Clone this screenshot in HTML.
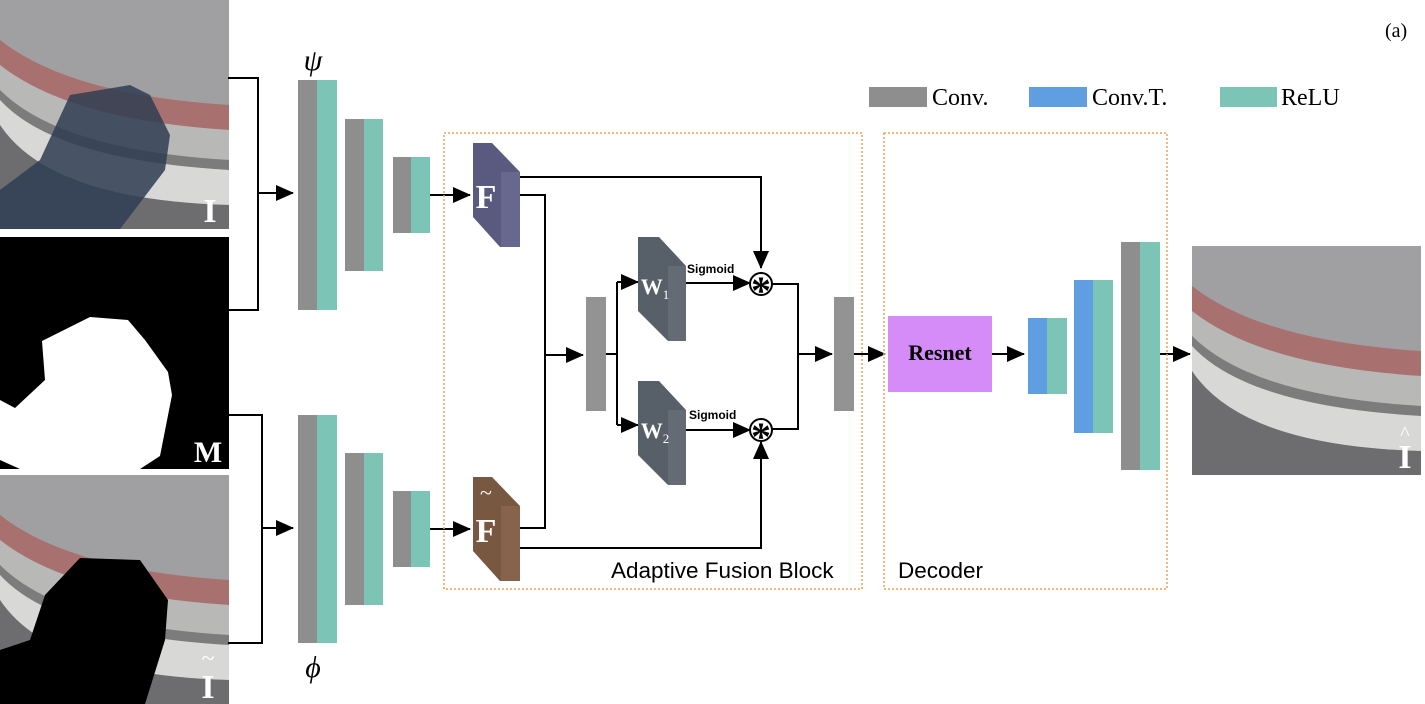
<!DOCTYPE html>
<html><head><meta charset="utf-8"><style>
html,body{margin:0;padding:0;background:#fff;}
svg{display:block}
text{font-family:"Liberation Serif",serif}
</style></head><body>
<svg width="1425" height="704" viewBox="0 0 1425 704" xmlns="http://www.w3.org/2000/svg">
<defs>
<marker id="ab" markerWidth="18" markerHeight="16" refX="17" refY="8" orient="auto" markerUnits="userSpaceOnUse"><path d="M0,0 L18,8 L0,16 z" fill="#000"/></marker>
<g id="scene">
<rect x="0" y="0" width="229" height="229" fill="#a0a0a2"/>
<path d="M0,40 Q70,95 229,105 L229,130 Q70,120 0,65 z" fill="#a8716f"/>
<path d="M0,65 Q70,120 229,130 L229,160 Q60,150 0,90 z" fill="#b8b8b6"/>
<path d="M0,90 Q60,150 229,160 L229,170 Q55,160 0,100z" fill="#7c7c7c"/>
<path d="M0,100 Q55,160 229,170 L229,205 Q50,200 0,125 z" fill="#d8d8d6"/>
<path d="M0,125 Q50,200 229,205 L229,229 L0,229 z" fill="#6d6d70"/>
</g>
</defs>

<g><use href="#scene"/></g>
<path d="M40,160 L70,95 L130,85 L150,95 L170,135 L165,170 L120,229 L0,229 L0,190 Z" fill="#2f3d52" opacity="0.85"/>
<text x="210" y="222" font-size="34" fill="#fff" text-anchor="middle" font-weight="bold">I</text>
<rect x="0" y="237" width="229" height="232" fill="#000"/>
<path d="M42,341 L90,317 L128,320 L145,340 L168,372 L172,395 L160,456 L140,469 L20,469 L0,460 L0,400 L15,408 L45,380 Z" fill="#fff"/>
<text x="208" y="462" font-size="30" fill="#fff" text-anchor="middle" font-weight="bold">M</text>
<g transform="translate(0,475)"><use href="#scene"/></g>
<path d="M45,595 L80,558 L140,560 L168,600 L165,640 L145,704 L0,704 L0,650 L30,640 Z" fill="#000"/>
<text x="208" y="698" font-size="34" fill="#fff" text-anchor="middle" font-weight="bold">I</text>
<text x="208" y="666" font-size="24" fill="#fff" text-anchor="middle">~</text>
<g transform="translate(1192,246)"><use href="#scene"/></g>
<text x="1405" y="468" font-size="34" fill="#fff" text-anchor="middle" font-weight="bold">I</text>
<text x="1405" y="440" font-size="20" fill="#fff" text-anchor="middle">^</text>

<g stroke="#000" stroke-width="2" fill="none">
<polyline points="228,78 258,78 258,310 228,310"/>
<line x1="258" y1="193" x2="293" y2="193" marker-end="url(#ab)"/>
<polyline points="228,415 262,415 262,643 228,643"/>
<line x1="262" y1="528" x2="293" y2="528" marker-end="url(#ab)"/>
<line x1="430" y1="195" x2="470" y2="195" marker-end="url(#ab)"/>
<line x1="430" y1="529" x2="470" y2="529" marker-end="url(#ab)"/>
<polyline points="520,177 761,177 761,268" marker-end="url(#ab)"/>
<polyline points="520,195 545,195 545,528 520,528"/>
<line x1="545" y1="355" x2="583" y2="355" marker-end="url(#ab)"/>
<polyline points="606,354 617,354"/>
<line x1="617" y1="282" x2="617" y2="425"/>
<line x1="617" y1="282" x2="638" y2="282" marker-end="url(#ab)"/>
<line x1="617" y1="425" x2="638" y2="425" marker-end="url(#ab)"/>
<line x1="686" y1="283" x2="750" y2="283" marker-end="url(#ab)"/>
<line x1="686" y1="430" x2="750" y2="430" marker-end="url(#ab)"/>
<polyline points="520,548 761,548 761,442" marker-end="url(#ab)"/>
<polyline points="772,284 798,284 798,429 772,429"/>
<line x1="798" y1="354" x2="832" y2="354" marker-end="url(#ab)"/>
<line x1="854" y1="354" x2="885" y2="354" marker-end="url(#ab)"/>
<line x1="992" y1="354" x2="1024" y2="354" marker-end="url(#ab)"/>
<line x1="1160" y1="354" x2="1190" y2="354" marker-end="url(#ab)"/>
</g>

<rect x="298" y="80" width="19" height="230" fill="#8e8e8e"/><rect x="317" y="80" width="20" height="230" fill="#7cc4b6"/>
<rect x="345" y="119" width="19" height="152" fill="#8e8e8e"/><rect x="364" y="119" width="19" height="152" fill="#7cc4b6"/>
<rect x="393" y="157" width="18" height="76" fill="#8e8e8e"/><rect x="411" y="157" width="19" height="76" fill="#7cc4b6"/>
<rect x="298" y="415" width="19" height="228" fill="#8e8e8e"/><rect x="317" y="415" width="20" height="228" fill="#7cc4b6"/>
<rect x="345" y="453" width="19" height="152" fill="#8e8e8e"/><rect x="364" y="453" width="19" height="152" fill="#7cc4b6"/>
<rect x="393" y="491" width="18" height="76" fill="#8e8e8e"/><rect x="411" y="491" width="19" height="76" fill="#7cc4b6"/>
<text x="313" y="70" font-size="30" font-style="italic" text-anchor="middle">ψ</text>
<text x="313" y="677" font-size="30" font-style="italic" text-anchor="middle">ϕ</text>

<rect x="444" y="133" width="418" height="456" fill="none" stroke="#f0a050" stroke-width="1.5" stroke-dasharray="2,2"/>
<polygon points="473,143 492,143 520,172 520,247 500,247 473,217" fill="#5a5a80"/>
<rect x="501" y="172" width="19" height="75" fill="#67678f"/>
<text x="486" y="208" font-size="34" fill="#fff" text-anchor="middle" font-weight="bold">F</text>
<polygon points="473,477 492,477 520,506 520,581 500,581 473,551" fill="#785840"/>
<rect x="501" y="506" width="19" height="75" fill="#86634a"/>
<text x="486" y="542" font-size="34" fill="#fff" text-anchor="middle" font-weight="bold">F</text>
<text x="486" y="500" font-size="22" fill="#fff" text-anchor="middle">~</text>
<rect x="586" y="297" width="20" height="114" fill="#939393"/>
<polygon points="638,237 659,237 686,266 686,341 668,341 638,311" fill="#575f68"/>
<rect x="668" y="266" width="18" height="75" fill="#646b74"/>
<text x="655" y="294" font-size="22" fill="#fff" text-anchor="middle" font-weight="bold">W<tspan font-size="13" font-weight="normal" dy="5">1</tspan></text>
<polygon points="638,381 659,381 686,410 686,485 668,485 638,455" fill="#575f68"/>
<rect x="668" y="410" width="18" height="75" fill="#646b74"/>
<text x="655" y="438" font-size="22" fill="#fff" text-anchor="middle" font-weight="bold">W<tspan font-size="13" font-weight="normal" dy="5">2</tspan></text>
<text x="687" y="273" font-size="12" font-weight="bold" style="font-family:'Liberation Sans',sans-serif">Sigmoid</text>
<text x="689" y="419" font-size="12" font-weight="bold" style="font-family:'Liberation Sans',sans-serif">Sigmoid</text>
<circle cx="761" cy="284" r="11" fill="#fff" stroke="#000" stroke-width="2"/>
<text x="761" y="304" font-size="40" text-anchor="middle" font-weight="bold">*</text>
<circle cx="761" cy="430" r="11" fill="#fff" stroke="#000" stroke-width="2"/>
<text x="761" y="450" font-size="40" text-anchor="middle" font-weight="bold">*</text>
<rect x="834" y="297" width="20" height="114" fill="#939393"/>
<text x="611" y="578" font-size="22.5" style="font-family:'Liberation Sans',sans-serif">Adaptive Fusion Block</text>

<rect x="884" y="133" width="283" height="456" fill="none" stroke="#f0a050" stroke-width="1.5" stroke-dasharray="2,2"/>
<text x="898" y="578" font-size="22.5" style="font-family:'Liberation Sans',sans-serif">Decoder</text>
<rect x="888" y="316" width="104" height="76" fill="#d68cf8"/>
<text x="940" y="360" font-size="22" font-weight="bold" text-anchor="middle">Resnet</text>
<rect x="1028" y="318" width="19" height="76" fill="#5f9ee0"/><rect x="1047" y="318" width="20" height="76" fill="#7cc4b6"/>
<rect x="1074" y="280" width="19" height="153" fill="#5f9ee0"/><rect x="1093" y="280" width="20" height="153" fill="#7cc4b6"/>
<rect x="1121" y="242" width="19" height="228" fill="#8e8e8e"/><rect x="1140" y="242" width="20" height="228" fill="#7cc4b6"/>

<rect x="869" y="87" width="58" height="20" fill="#8e8e8e"/><text x="932" y="105" font-size="24">Conv.</text>
<rect x="1029" y="87" width="58" height="20" fill="#5f9ee0"/><text x="1092" y="105" font-size="24">Conv.T.</text>
<rect x="1220" y="87" width="57" height="20" fill="#7cc4b6"/><text x="1281" y="105" font-size="24">ReLU</text>
<text x="1385" y="37" font-size="20">(a)</text>
</svg>
</body></html>
